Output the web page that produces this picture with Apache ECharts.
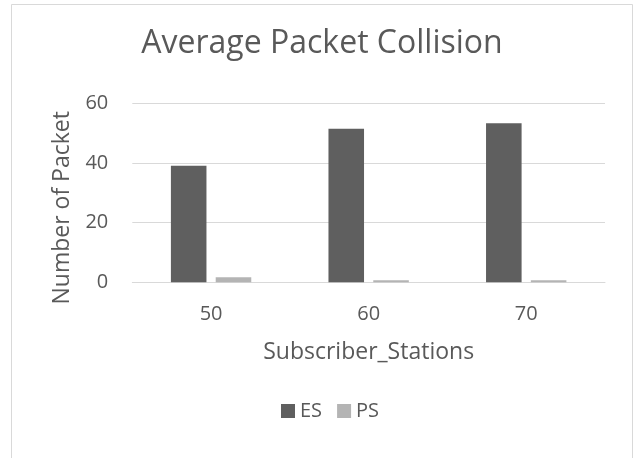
<!DOCTYPE html>
<html>
<head>
<meta charset="utf-8">
<script src="https://cdn.jsdelivr.net/npm/echarts@6/dist/echarts.min.js"></script>
<style>
  html, body { margin: 0; padding: 0; background: #ffffff; }
  #chart { width: 634px; height: 458px; }
</style>
</head>
<body>
<div id="chart"></div>
<script>
// Subscriber station counts on the category axis
const stations = ['50', '60', '70'];
// Average number of collided packets per scheme
const esValues = [39.1, 51.5, 53.3];
const psValues = [1.7, 0.7, 0.7];
// Value axis range
const yMin = 0;
const yMax = 60;
const yStep = 20;

const FONT = '"Open Sans", "Noto Sans", sans-serif';
const TEXT = '#595959';

const chart = echarts.init(document.getElementById('chart'), null, { renderer: 'canvas' });

chart.setOption({
  animation: false,
  backgroundColor: '#ffffff',
  graphic: [{
    type: 'rect',
    shape: { x: 11.5, y: 4.5, width: 621, height: 480 },
    style: { fill: 'none', stroke: '#d9d9d9', lineWidth: 1 },
    silent: true,
    z: -1
  }],
  title: {
    text: 'Average Packet Collision',
    left: 322,
    textAlign: 'center',
    top: 28,
    padding: 0,
    textStyle: { fontFamily: FONT, fontSize: 32, fontWeight: 'normal', color: TEXT }
  },
  legend: {
    data: ['ES', 'PS'],
    left: 281,
    top: 401,
    padding: 0,
    itemWidth: 14,
    itemHeight: 14,
    itemGap: 15,
    icon: 'rect',
    textStyle: { fontFamily: FONT, fontSize: 20, color: TEXT }
  },
  grid: {
    left: 132.3,
    right: 29,
    top: 103.3,
    bottom: 175.7,
    containLabel: false
  },
  xAxis: {
    type: 'category',
    data: stations,
    name: 'Subscriber_Stations',
    nameLocation: 'middle',
    nameGap: 59,
    nameTextStyle: { fontFamily: FONT, fontSize: 23, color: TEXT },
    axisLine: { lineStyle: { color: '#d9d9d9', width: 1 } },
    axisTick: { show: false },
    axisLabel: { fontFamily: FONT, fontSize: 20, color: TEXT, margin: 22 }
  },
  yAxis: {
    type: 'value',
    min: yMin,
    max: yMax,
    interval: yStep,
    name: 'Number of Packet',
    nameLocation: 'middle',
    nameGap: 58,
    nameRotate: 90,
    nameTextStyle: { fontFamily: FONT, fontSize: 23, color: TEXT, padding: [0, 30, 0, 0] },
    axisLine: { show: false },
    axisTick: { show: false },
    splitLine: { lineStyle: { color: '#d9d9d9', width: 1 } },
    axisLabel: { fontFamily: FONT, fontSize: 20, color: TEXT, margin: 24 }
  },
  series: [
    {
      name: 'ES',
      type: 'bar',
      data: esValues,
      barGap: '26%',
      barCategoryGap: '49%',
      itemStyle: { color: '#5f5f5f' }
    },
    {
      name: 'PS',
      type: 'bar',
      data: psValues,
      itemStyle: { color: '#b4b4b4' }
    }
  ]
});
</script>
</body>
</html>
